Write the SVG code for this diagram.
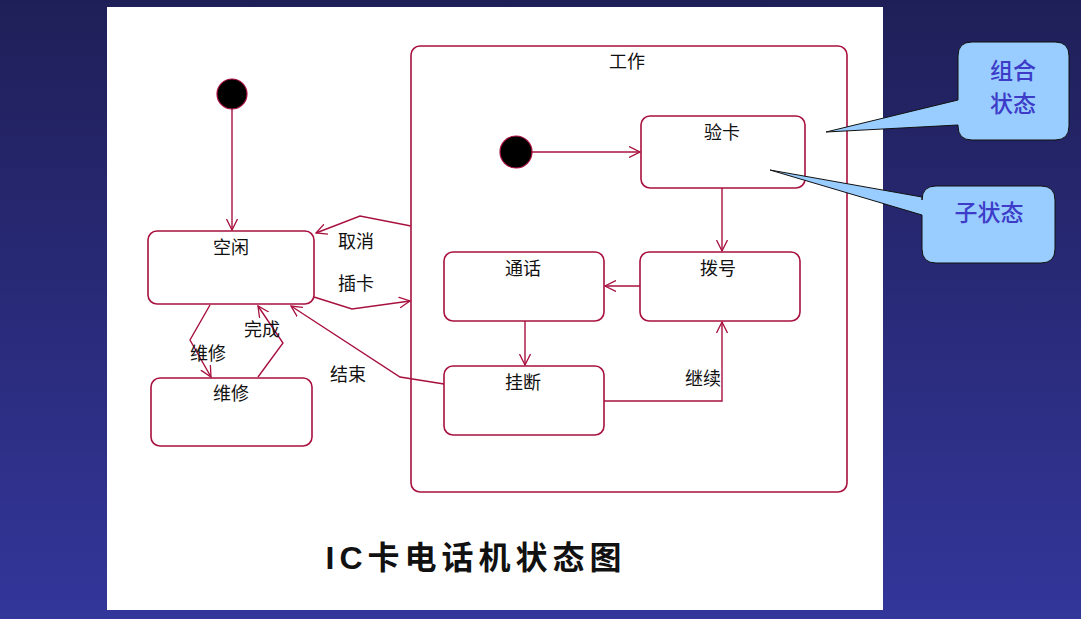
<svg xmlns="http://www.w3.org/2000/svg" width="1081" height="619" viewBox="0 0 1081 619">
<defs>
<linearGradient id="bg" x1="0" y1="0" x2="0" y2="1">
<stop offset="0" stop-color="#1f1f58"/>
<stop offset="1" stop-color="#33369a"/>
</linearGradient>
<marker id="arr" viewBox="0 0 12 12" refX="11" refY="6" markerWidth="12" markerHeight="12" markerUnits="userSpaceOnUse" orient="auto">
<path d="M0,0.5 L11,6 L0,11.5" fill="none" stroke="#a8103f" stroke-width="1.3"/>
</marker>
<style>
.st{fill:#fff;stroke:#a8103f;stroke-width:1.6}
.ln{fill:none;stroke:#a8103f;stroke-width:1.4;marker-end:url(#arr)}
.init{fill:#000;stroke:#a8103f;stroke-width:1.2}
.t{font-family:"Noto Sans CJK SC","Noto Sans",sans-serif;font-size:18px;fill:#111;text-anchor:middle}
.co{fill:#99ccff;stroke:#111;stroke-width:1}
.ct{font-family:"Noto Sans CJK SC",sans-serif;font-size:23px;font-weight:500;fill:#3c3cc8;text-anchor:middle}
</style>
</defs>
<rect width="1081" height="619" fill="url(#bg)"/>
<rect x="107" y="7" width="776" height="603" fill="#fff"/>

<g id="start"><circle class="init" cx="232" cy="94" r="15"/></g>
<g id="idle"><rect class="st" x="148" y="231" width="166" height="73" rx="9"/><text class="t" x="231" y="254">空闲</text></g>
<g id="repair"><rect class="st" x="151" y="378" width="161" height="68" rx="9"/><text class="t" x="231" y="400">维修</text></g>
<g id="work"><rect class="st" x="411" y="46" width="436" height="446" rx="9"/><text class="t" x="627" y="68">工作</text></g>
<g id="work-start"><circle class="init" cx="516" cy="152" r="16"/></g>
<g id="check"><rect class="st" x="641" y="116" width="164" height="72" rx="9"/><text class="t" x="722" y="139">验卡</text></g>
<g id="dial"><rect class="st" x="640" y="252" width="160" height="69" rx="9"/><text class="t" x="718" y="275">拨号</text></g>
<g id="talk"><rect class="st" x="444" y="252" width="160" height="69" rx="9"/><text class="t" x="523" y="275">通话</text></g>
<g id="hangup"><rect class="st" x="444" y="366" width="160" height="69" rx="9"/><text class="t" x="523" y="389">挂断</text></g>

<g id="connectors">
<line class="ln" x1="232" y1="109" x2="232" y2="230"/>
<line class="ln" x1="532" y1="152" x2="640" y2="152"/>
<line class="ln" x1="722" y1="188" x2="722" y2="251"/>
<line class="ln" x1="640" y1="286" x2="605" y2="286"/>
<line class="ln" x1="525" y1="321" x2="525" y2="365"/>
<path class="ln" d="M604,401 L722,401 L722,322"/>
<path class="ln" d="M411,226 L360,216 L316,233"/>
<path class="ln" d="M314,297 L352,309 L410,301"/>
<path class="ln" d="M444,384 L400,377 L291,306"/>
<path class="ln" d="M210,305 L190,340 L211,377"/>
<path class="ln" d="M258,377 L283,343 L258,306"/>
<text class="t" x="356" y="248">取消</text>
<text class="t" x="356" y="290">插卡</text>
<text class="t" x="348" y="381">结束</text>
<text class="t" x="208" y="360">维修</text>
<text class="t" x="262" y="336">完成</text>
<text class="t" x="703" y="385">继续</text>
</g>

<g id="title"><text x="476" y="569" font-family="'Liberation Sans','Noto Sans CJK SC',sans-serif" font-weight="bold" font-size="32" fill="#111" text-anchor="middle" letter-spacing="5">IC卡电话机状态图</text></g>

<g id="callout-composite">
<path class="co" d="M972,42 H1055 Q1069,42 1069,56 V126 Q1069,140 1055,140 H972 Q958,140 958,126 V125 L826,132 L958,100 V56 Q958,42 972,42 Z"/>
<text class="ct" x="1013" y="79">组合</text>
<text class="ct" x="1013" y="112">状态</text>
</g>
<g id="callout-sub">
<path class="co" d="M936,186 H1041 Q1055,186 1055,200 V249 Q1055,263 1041,263 H936 Q922,263 922,249 V215 L770,170 L922,197 V200 Q922,186 936,186 Z"/>
<text class="ct" x="989" y="221">子状态</text>
</g>
</svg>
